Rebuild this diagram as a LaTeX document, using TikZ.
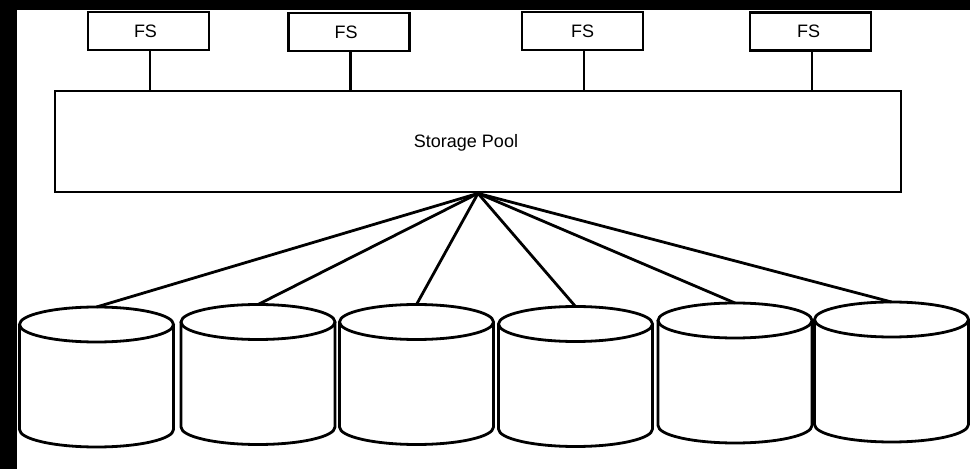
\documentclass[tikz,border=0pt]{standalone}
\usepackage{fontspec}
\setmainfont{Liberation Sans}
\begin{document}
\begin{tikzpicture}[x=1pt,y=1pt,
  ln/.style={line width=2.8pt, black},
  fsbox/.style={draw, ln, fill=white, minimum width=121pt, minimum height=38pt, inner sep=0pt, font=\fontsize{18}{21}\selectfont},
  poolbox/.style={draw, ln, fill=white, minimum width=846pt, minimum height=101pt, inner sep=0pt},
  disk/.style={ln, fill=white}]
\useasboundingbox (0,0) rectangle (970,469);
\fill[white] (0,0) rectangle (970,469);
\fill[black] (0,0) rectangle (17,469);
\fill[black] (0,459) rectangle (970,469);
% FS boxes
\node[fsbox] (fs1) at (148.5,438) {\hspace*{-6pt}FS};
\node[fsbox] (fs2) at (349,437) {\hspace*{-6pt}FS};
\node[fsbox] (fs3) at (582.5,438) {FS};
\node[fsbox] (fs4) at (810.5,437.5) {\hspace*{-4pt}FS};
% Storage pool
\node[poolbox, label={[font=\fontsize{18}{21}\selectfont, xshift=-12pt, yshift=-1pt]center:Storage Pool}] (pool) at (478,327.5) {};
\foreach \f in {fs1,fs2,fs3,fs4}{
  \draw[ln] ([xshift=1.5pt]\f.south) -- ([xshift=1.5pt]\f.south |- pool.north);
}
% Disks
\foreach \i/\cx/\cy in {1/96.5/144.5, 2/258/147, 3/416.5/147, 4/575.5/145, 5/735/148.5, 6/891.5/149.5}{
  \pgfmathsetmacro{\by}{\cy-105}
  \draw[disk] (\cx-77,\cy) -- (\cx-77,\by) arc[start angle=180, end angle=360, x radius=77, y radius=17.5] -- (\cx+77,\cy);
  \draw[disk] (\cx,\cy) ellipse [x radius=77, y radius=17.5];
  \coordinate (d\i) at (\cx,\cy+17.5);
}
\foreach \i in {1,...,6}{
  \draw[ln] (pool.south) -- (d\i);
}
\end{tikzpicture}
\end{document}
